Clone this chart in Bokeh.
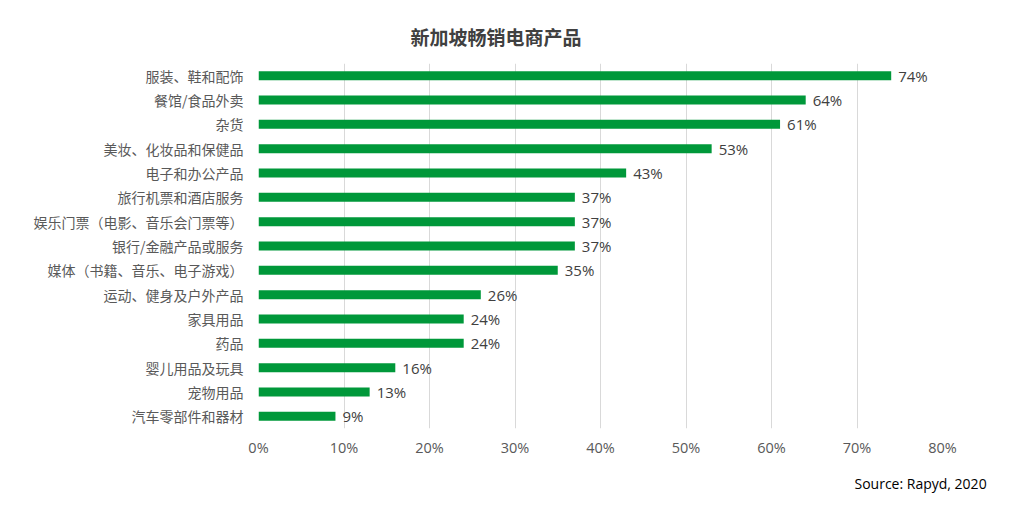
from bokeh.plotting import figure
from bokeh.models import Range1d, FixedTicker, Title, ColumnDataSource, NumeralTickFormatter
from bokeh.core.properties import value
from bokeh.embed import file_html
from bokeh.resources import INLINE

categories = ["服装、鞋和配饰", "餐馆/食品外卖", "杂货", "美妆、化妆品和保健品", "电子和办公产品",
              "旅行机票和酒店服务", "娱乐门票（电影、音乐会门票等）", "银行/金融产品或服务",
              "媒体（书籍、音乐、电子游戏）", "运动、健身及户外产品", "家具用品", "药品",
              "婴儿用品及玩具", "宠物用品", "汽车零部件和器材"]
values = [74, 64, 61, 53, 43, 37, 37, 37, 35, 26, 24, 24, 16, 13, 9]
x_ticks = [0, 10, 20, 30, 40, 50, 60, 70, 80]
title_text = "新加坡畅销电商产品"
source_text = "Source: Rapyd, 2020"

idx = list(range(len(categories)))
src = ColumnDataSource(dict(y=idx, v=[x / 100 for x in values],
                            lab=[f"{x}%" for x in values]))

p = figure(width=1008, height=507, output_backend="svg", toolbar_location=None,
           x_range=Range1d(0, 0.8), y_range=Range1d(len(categories) - 0.5, -0.5),
           min_border_left=258, min_border_right=66, min_border_top=63, min_border_bottom=79)
p.outline_line_color = None
p.background_fill_color = "white"

p.title.text = title_text
p.title.align = "left"
p.title.offset = 152
p.title.text_font = "Noto Sans CJK SC"
p.title.text_font_size = "19px"
p.title.text_font_style = "bold"
p.title.text_color = "#404040"
p.title.standoff = 28

p.hbar(y="y", right="v", left=0, height=0.37, source=src, color="#00983A", line_color=None)
p.text(x="v", y="y", text="lab", source=src, x_offset=7, text_baseline="middle",
       text_font=value("Open Sans"), text_font_size="15px", text_color="#404040")

p.xaxis.ticker = FixedTicker(ticks=[t / 100 for t in x_ticks])
p.xaxis.formatter = NumeralTickFormatter(format="0%")
p.xaxis.axis_line_color = None
p.xaxis.major_tick_line_color = None
p.xaxis.minor_tick_line_color = None
p.xaxis.major_label_text_font = "Open Sans"
p.xaxis.major_label_text_font_size = "14.5px"
p.xaxis.major_label_text_color = "#595959"
p.xaxis.major_label_standoff = 3

p.yaxis.ticker = FixedTicker(ticks=idx)
p.yaxis.major_label_overrides = {i: c for i, c in enumerate(categories)}
p.yaxis.axis_line_color = None
p.yaxis.major_tick_line_color = None
p.yaxis.minor_tick_line_color = None
p.yaxis.major_label_text_font = "Noto Sans CJK SC"
p.yaxis.major_label_text_font_size = "14px"
p.yaxis.major_label_text_color = "#595959"
p.yaxis.major_label_standoff = 9

p.xgrid.grid_line_color = "#d9d9d9"
p.ygrid.grid_line_color = None

src_title = Title(text=source_text, align="left", offset=596, text_font="Open Sans",
                  text_font_size="14px", text_font_style="normal", text_color="#000000",
                  standoff=25)
p.add_layout(src_title, "below")

open("out.html", "w").write(file_html(p, INLINE))
